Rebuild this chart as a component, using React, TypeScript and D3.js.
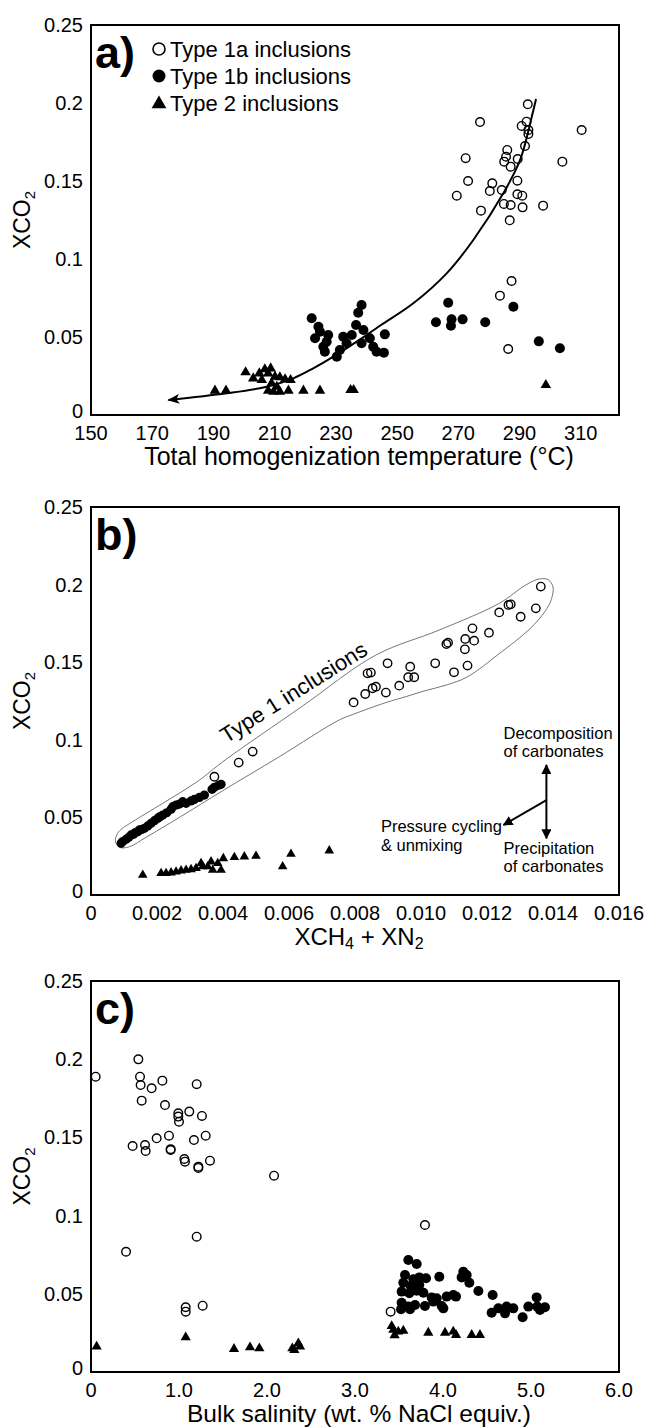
import React from 'react';
import * as d3 from 'd3';

type Pt = [number, number];

// ---------------- Panel a: XCO2 vs total homogenization temperature ----------------
const aType1a: Pt[] = [
  [292.7, 0.1992], [277.1, 0.1878], [292.3, 0.188], [290.7, 0.1853], [292.9, 0.1827], [292.9, 0.1801],
  [310.3, 0.1827], [291.8, 0.1724], [286.0, 0.1699], [272.4, 0.1646], [285.6, 0.1656], [285.0, 0.1624],
  [289.4, 0.1641], [304.0, 0.1624], [287.1, 0.1592], [273.2, 0.15], [281.1, 0.1485], [289.3, 0.1502],
  [269.5, 0.1406], [280.3, 0.1436], [284.2, 0.1442], [289.3, 0.1415], [290.9, 0.1406], [284.9, 0.1353],
  [287.1, 0.1346], [291.0, 0.1331], [297.7, 0.1342], [277.4, 0.131], [286.8, 0.1248], [287.4, 0.0859],
  [283.6, 0.0765], [286.3, 0.0423],
];
const aType1b: Pt[] = [
  [238.4, 0.0705], [237.3, 0.0656], [222.1, 0.062], [224.3, 0.0566], [236.6, 0.0577], [224.8, 0.0534],
  [227.5, 0.0513], [232.4, 0.0502], [235.2, 0.0513], [239.0, 0.0545], [223.2, 0.0492], [227.0, 0.047],
  [241.1, 0.0492], [238.4, 0.046], [233.5, 0.046], [225.9, 0.0438], [242.2, 0.0438], [226.4, 0.0406],
  [231.3, 0.0417], [230.3, 0.0374], [243.3, 0.0406], [246.0, 0.0517], [245.7, 0.0399], [266.7, 0.072],
  [262.7, 0.0594], [267.8, 0.0613], [271.4, 0.0613], [267.6, 0.0572], [278.8, 0.0594], [288.0, 0.0694],
  [296.3, 0.0472], [303.2, 0.0428],
];
const aType2: Pt[] = [
  [200.5, 0.0274], [203.0, 0.0235], [205.0, 0.0267], [206.8, 0.0293], [208.7, 0.0299], [207.9, 0.0267],
  [210.1, 0.0246], [211.7, 0.0242], [213.4, 0.0229], [215.2, 0.0224], [205.8, 0.0224], [190.5, 0.0156],
  [194.1, 0.0156], [207.9, 0.0156], [209.6, 0.0149], [211.7, 0.0149], [214.5, 0.0156], [219.4, 0.0156],
  [224.8, 0.0156], [234.8, 0.016], [235.8, 0.016], [209.0, 0.0203], [210.7, 0.0181], [298.6, 0.0192],
];
const aTrend: Pt[] = [
  [175.3, 0.0096], [194.3, 0.0139], [207.4, 0.0181], [216.1, 0.0235], [222.6, 0.0299], [229.2, 0.0374],
  [236.8, 0.047], [244.4, 0.0572], [255.3, 0.0716], [266.2, 0.0908], [274.9, 0.1122], [284.7, 0.1421],
  [290.2, 0.1635], [294.0, 0.1912], [295.4, 0.2026],
];
const aXTicks = [150, 170, 190, 210, 230, 250, 270, 290, 310];

// ---------------- Panel b: XCO2 vs XCH4 + XN2 ----------------
const bType1a: Pt[] = [
  [0.003739, 0.0762], [0.004475, 0.0853], [0.004899, 0.0924],
  [0.01363, 0.1987], [0.01272, 0.1873], [0.01265, 0.1869], [0.01237, 0.1821], [0.01302, 0.1793],
  [0.01348, 0.1847], [0.01156, 0.1718], [0.01206, 0.169], [0.01134, 0.165], [0.01161, 0.1639],
  [0.01077, 0.1617], [0.01082, 0.1626], [0.01133, 0.1583], [0.01043, 0.1493], [0.01141, 0.1478],
  [0.011, 0.1435], [0.008987, 0.1493], [0.009673, 0.1471], [0.009612, 0.1403], [0.009794, 0.1403],
  [0.00934, 0.1349], [0.00838, 0.1428], [0.008482, 0.1433], [0.008634, 0.1342], [0.008533, 0.1332],
  [0.008936, 0.1304], [0.00831, 0.1295], [0.007957, 0.1241],
];
const bType1b: Pt[] = [
  [0.000913, 0.0333], [0.000964, 0.0344], [0.001065, 0.0359], [0.001146, 0.0372], [0.001216, 0.0387],
  [0.001287, 0.0391], [0.001347, 0.0402], [0.001418, 0.0408], [0.001468, 0.0419], [0.001549, 0.0423],
  [0.00162, 0.043], [0.001721, 0.0445], [0.001822, 0.0462], [0.001923, 0.0479], [0.002024, 0.0494],
  [0.002094, 0.0505], [0.002175, 0.0515], [0.002296, 0.053], [0.002427, 0.0552], [0.002478, 0.0569],
  [0.002578, 0.058], [0.002679, 0.0586], [0.00278, 0.0601], [0.002881, 0.0591], [0.003032, 0.0606],
  [0.003133, 0.0616], [0.003284, 0.0629], [0.003436, 0.0644], [0.003668, 0.0681], [0.003739, 0.0694],
  [0.00387, 0.0707], [0.003941, 0.0713],
];
const bType2: Pt[] = [
  [0.001569, 0.0129], [0.002124, 0.014], [0.002275, 0.014], [0.002426, 0.0144], [0.002578, 0.015],
  [0.002729, 0.0157], [0.00288, 0.0161], [0.003032, 0.0165], [0.003183, 0.0172], [0.003385, 0.0183],
  [0.003537, 0.0183], [0.003688, 0.0161], [0.003941, 0.0161], [0.003335, 0.0204], [0.003638, 0.0215],
  [0.00384, 0.0204], [0.004011, 0.0236], [0.004344, 0.0243], [0.004647, 0.0247], [0.005, 0.0251],
  [0.005808, 0.0183], [0.00606, 0.0264], [0.00722, 0.0286],
];
const bEnvelope: Pt[] = [
  [0.000742, 0.0344], [0.00078, 0.0387], [0.000913, 0.0423], [0.001266, 0.0473], [0.002175, 0.0591],
  [0.003184, 0.0725], [0.004092, 0.0874], [0.00636, 0.121], [0.008633, 0.1546], [0.01055, 0.1707],
  [0.01237, 0.1879], [0.01317, 0.1997], [0.01358, 0.2036], [0.01385, 0.2032], [0.01400, 0.1985],
  [0.01395, 0.1905], [0.01375, 0.1825], [0.0133, 0.1715], [0.0124, 0.156],
  [0.0114, 0.1405], [0.0108, 0.1355], [0.0101, 0.1315], [0.009542, 0.1278], [0.008936, 0.124],
  [0.007957, 0.1165], [0.007523, 0.1128], [0.005707, 0.0891], [0.00399, 0.0672], [0.00268, 0.05],
  [0.00167, 0.0372], [0.001166, 0.0311], [0.000863, 0.0307],
];
const bXTicks = [0, 0.002, 0.004, 0.006, 0.008, 0.01, 0.012, 0.014, 0.016];
const bXTickLabels = ['0', '0.002', '0.004', '0.006', '0.008', '0.010', '0.012', '0.014', '0.016'];
// process arrows: origin and three tips
const bArrowOrigin: Pt = [0.0138, 0.0612];
const bArrowTips: Pt[] = [[0.0138, 0.0838], [0.0138, 0.0365], [0.0125, 0.0451]];

// ---------------- Panel c: XCO2 vs bulk salinity ----------------
const cType1a: Pt[] = [
  [0.053, 0.1888], [0.538, 0.1999], [0.557, 0.1888], [0.564, 0.1835], [0.689, 0.1814], [0.811, 0.1863],
  [1.201, 0.184], [0.576, 0.1735], [0.841, 0.1707], [0.992, 0.1654], [0.992, 0.1633], [1.0, 0.16],
  [1.117, 0.1665], [1.261, 0.1637], [0.473, 0.1445], [0.614, 0.1451], [0.621, 0.1413], [0.746, 0.1494],
  [0.886, 0.1511], [0.905, 0.1419], [0.905, 0.1425], [1.17, 0.1483], [1.303, 0.1511], [1.061, 0.1362],
  [1.068, 0.1345], [1.22, 0.1313], [1.22, 0.1305], [1.352, 0.1351], [2.08, 0.1255],
  [0.398, 0.0769], [1.201, 0.0865], [1.076, 0.0414], [1.076, 0.0386], [1.269, 0.0424],
  [3.795, 0.094], [3.405, 0.0386],
];
const cType1b: Pt[] = [
  [3.606, 0.0716], [3.701, 0.069], [3.568, 0.062], [3.663, 0.0593], [3.731, 0.0605], [3.807, 0.0599],
  [3.958, 0.0609], [4.231, 0.0641], [4.269, 0.062], [4.212, 0.0605], [4.299, 0.0571], [3.549, 0.0571],
  [3.633, 0.055], [3.731, 0.0556], [3.53, 0.0514], [3.617, 0.0503], [3.701, 0.052], [3.777, 0.0507],
  [3.871, 0.0477], [3.928, 0.0471], [4.042, 0.0482], [4.117, 0.0492], [4.148, 0.0482], [3.53, 0.0443],
  [3.606, 0.0418], [3.682, 0.0428], [3.523, 0.0401], [3.625, 0.0401], [3.795, 0.0422], [3.89, 0.045],
  [3.985, 0.0422], [4.004, 0.0407], [4.402, 0.0518], [4.564, 0.0492], [4.553, 0.0379], [4.629, 0.0407],
  [4.723, 0.0418], [4.799, 0.0407], [4.705, 0.0375], [4.905, 0.035], [4.97, 0.0418], [5.064, 0.0477],
  [5.072, 0.0418], [5.159, 0.0414], [5.102, 0.0396],
];
const cType2: Pt[] = [
  [0.064, 0.0162], [1.076, 0.0222], [1.625, 0.0147], [1.807, 0.0158], [1.913, 0.0151], [2.288, 0.0151],
  [2.311, 0.0141], [2.356, 0.0183], [2.375, 0.0162],
  [3.417, 0.0294], [3.436, 0.0269], [3.492, 0.0258], [3.549, 0.0264], [3.45, 0.0235], [3.833, 0.0251],
  [4.023, 0.0251], [4.117, 0.0258], [4.148, 0.0237], [4.326, 0.0237], [4.42, 0.0237],
];
const cXTicks = [0, 1, 2, 3, 4, 5, 6];
const cXTickLabels = ['0', '1.0', '2.0', '3.0', '4.0', '5.0', '6.0'];

const yTicks = [0, 0.05, 0.1, 0.15, 0.2, 0.25];
const yTickLabels = ['0', '0.05', '0.1', '0.15', '0.2', '0.25'];

// ---------------- drawing ----------------
const FONT = "'Liberation Sans', Arial, Helvetica, sans-serif";
const LEFT = 91;
const RIGHT = 619;

const triPath = (size: number) => d3.symbol().type(d3.symbolTriangle).size(size)() as string;

type Scales = { x: d3.ScaleLinear<number, number>; y: d3.ScaleLinear<number, number> };

function Panel(props: {
  top: number;
  bottom: number;
  xDomain: [number, number];
  xTicks: number[];
  xTickLabels: string[];
  letter: string;
  xTitle: React.ReactNode;
  xTitleSize: number;
  children: (s: Scales) => React.ReactNode;
}) {
  const { top, bottom, xDomain, xTicks, xTickLabels, letter, xTitle, xTitleSize, children } = props;
  const x = d3.scaleLinear().domain(xDomain).range([LEFT, RIGHT]);
  const y = d3.scaleLinear().domain([0, 0.25]).range([bottom, top]);
  const mid = (top + bottom) / 2;
  return (
    <g>
      {children({ x, y })}
      <rect x={LEFT} y={top} width={RIGHT - LEFT} height={bottom - top} fill="none" stroke="#000" strokeWidth={2} />
      {yTicks.map((t, i) => (
        <text key={'y' + i} x={83} y={y(t) + (t === 0 ? 3 : 7)} textAnchor="end" fontSize={20}>
          {yTickLabels[i]}
        </text>
      ))}
      {xTicks.map((t, i) => (
        <text key={'x' + i} x={x(t)} y={bottom + 25} textAnchor="middle" fontSize={20}>
          {xTickLabels[i]}
        </text>
      ))}
      <text x={95} y={top + 43} fontSize={45} fontWeight="bold">
        {letter}
      </text>
      <text transform={`translate(30, ${mid}) rotate(-90)`} textAnchor="middle" fontSize={23}>
        XCO<tspan fontSize={15} dy={5}>2</tspan>
      </text>
      <text x={(LEFT + RIGHT) / 2 + 4} y={bottom + 50} textAnchor="middle" fontSize={xTitleSize}>
        {xTitle}
      </text>
    </g>
  );
}

function OpenPts({ data, s, r }: { data: Pt[]; s: Scales; r: number }) {
  return (
    <g>
      {data.map((d, i) => (
        <circle key={i} cx={s.x(d[0])} cy={s.y(d[1])} r={r} fill="none" stroke="#000" strokeWidth={1.4} />
      ))}
    </g>
  );
}
function FilledPts({ data, s, r }: { data: Pt[]; s: Scales; r: number }) {
  return (
    <g>
      {data.map((d, i) => (
        <circle key={i} cx={s.x(d[0])} cy={s.y(d[1])} r={r} fill="#000" />
      ))}
    </g>
  );
}
function TriPts({ data, s, size }: { data: Pt[]; s: Scales; size: number }) {
  const p = triPath(size);
  return (
    <g>
      {data.map((d, i) => (
        <path key={i} d={p} transform={`translate(${s.x(d[0])},${s.y(d[1])})`} fill="#000" />
      ))}
    </g>
  );
}

export default function App() {
  const lineGen = (s: Scales) =>
    d3.line<Pt>().x((d) => s.x(d[0])).y((d) => s.y(d[1])).curve(d3.curveCatmullRom.alpha(0.5));
  const closedGen = (s: Scales) =>
    d3.line<Pt>().x((d) => s.x(d[0])).y((d) => s.y(d[1])).curve(d3.curveCatmullRomClosed.alpha(0.5));

  return (
    <svg
      width={645}
      height={1428}
      style={{ position: 'absolute', left: 0, top: 0, background: '#fff' }}
      fontFamily={FONT}
    >
      <defs>
        <marker id="arr" viewBox="0 0 12 10" refX={11} refY={5} markerWidth={12} markerHeight={10}
          markerUnits="userSpaceOnUse" orient="auto-start-reverse">
          <path d="M0,0 L12,5 L0,10 L3,5 z" fill="#000" />
        </marker>
        <marker id="arrb" viewBox="0 0 10 10" refX={9} refY={5} markerWidth={10} markerHeight={10}
          markerUnits="userSpaceOnUse" orient="auto">
          <path d="M0,0 L10,5 L0,10 z" fill="#000" />
        </marker>
      </defs>
      <rect x={0} y={0} width={645} height={1428} fill="#fff" />

      {/* Panel a */}
      <Panel top={25} bottom={415} xDomain={[150, 322.5]} xTicks={aXTicks} xTickLabels={aXTicks.map(String)}
        letter="a)" xTitle="Total homogenization temperature (°C)" xTitleSize={25}>
        {(s) => (
          <g>
            <path d={lineGen(s)(aTrend) as string} fill="none" stroke="#000" strokeWidth={2} markerStart="url(#arr)" />
            <OpenPts data={aType1a} s={s} r={4.3} />
            <FilledPts data={aType1b} s={s} r={5} />
            <TriPts data={aType2} s={s} size={48} />
            <g fontSize={22}>
              <circle cx={159} cy={49} r={6} fill="none" stroke="#000" strokeWidth={1.6} />
              <text x={170} y={57}>Type 1a inclusions</text>
              <circle cx={159} cy={76} r={6.5} fill="#000" />
              <text x={170} y={84}>Type 1b inclusions</text>
              <path d={triPath(95)} transform="translate(159,104)" fill="#000" />
              <text x={170} y={111}>Type 2 inclusions</text>
            </g>
          </g>
        )}
      </Panel>

      {/* Panel b */}
      <Panel top={507} bottom={895} xDomain={[0, 0.016]} xTicks={bXTicks} xTickLabels={bXTickLabels}
        letter="b)" xTitleSize={24}
        xTitle={<>XCH<tspan fontSize={16} dy={4}>4</tspan><tspan dy={-4}> + XN</tspan><tspan fontSize={16} dy={4}>2</tspan></>}>
        {(s) => {
          const [ox, oy] = bArrowOrigin;
          const ang = Math.atan2(s.y(0.1579) - s.y(0.0988), s.x(0.0085) - s.x(0.0041)) * 180 / Math.PI;
          return (
            <g>
              <path d={closedGen(s)(bEnvelope) as string} fill="none" stroke="#666" strokeWidth={0.9} />
              <text transform={`translate(${s.x(0.0041)},${s.y(0.0975)}) rotate(${ang})`} fontSize={22}>
                Type 1 inclusions
              </text>
              <OpenPts data={bType1a} s={s} r={4.2} />
              <FilledPts data={bType1b} s={s} r={4.6} />
              <TriPts data={bType2} s={s} size={40} />
              {bArrowTips.map((t, i) => (
                <line key={i} x1={s.x(ox)} y1={s.y(oy)} x2={s.x(t[0])} y2={s.y(t[1])} stroke="#000" strokeWidth={2}
                  markerEnd="url(#arrb)" />
              ))}
              <g fontSize={16.5}>
                <text x={s.x(0.0125)} y={s.y(0.1006)}>Decomposition</text>
                <text x={s.x(0.0125)} y={s.y(0.0888)}>of carbonates</text>
                <text x={s.x(0.008785)} y={s.y(0.0408)}>Pressure cycling</text>
                <text x={s.x(0.008785)} y={s.y(0.0285)}>&amp; unmixing</text>
                <text x={s.x(0.0125)} y={s.y(0.0264)}>Precipitation</text>
                <text x={s.x(0.0125)} y={s.y(0.015)}>of carbonates</text>
              </g>
            </g>
          );
        }}
      </Panel>

      {/* Panel c */}
      <Panel top={981} bottom={1372} xDomain={[0, 6]} xTicks={cXTicks} xTickLabels={cXTickLabels}
        letter="c)" xTitle="Bulk salinity (wt. % NaCl equiv.)" xTitleSize={24.5}>
        {(s) => (
          <g>
            <OpenPts data={cType1a} s={s} r={4.3} />
            <FilledPts data={cType1b} s={s} r={5} />
            <TriPts data={cType2} s={s} size={45} />
          </g>
        )}
      </Panel>
    </svg>
  );
}
